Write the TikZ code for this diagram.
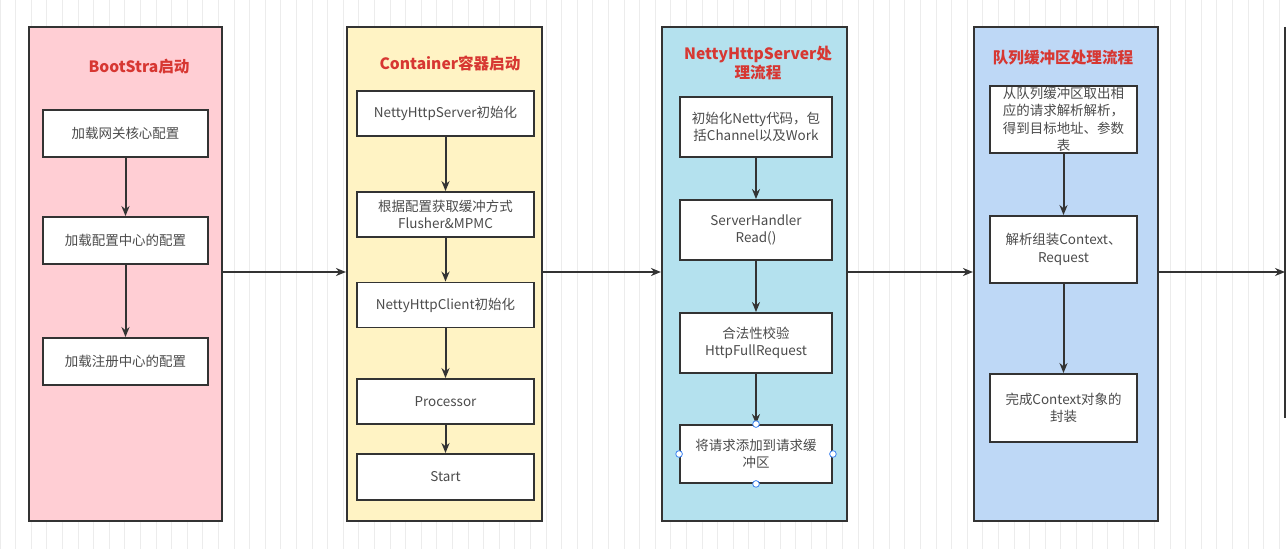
\documentclass[tikz,border=0pt]{standalone}
\usepackage{fontspec}
\setmainfont{Noto Sans CJK SC}
\usetikzlibrary{arrows.meta}

\definecolor{pinkbg}{RGB}{255,206,212}
\definecolor{yellowbg}{RGB}{255,243,196}
\definecolor{cyanbg}{RGB}{180,225,238}
\definecolor{bluebg}{RGB}{190,216,246}
\definecolor{titlered}{RGB}{215,55,50}
\definecolor{boxtext}{RGB}{75,75,75}
\definecolor{gridline}{RGB}{236,236,236}
\definecolor{handle}{RGB}{60,130,240}

\tikzset{
  stage/.style={draw=black!80,line width=1.6pt,minimum height=494*0.75pt},
  title/.style={text=titlered,font=\bfseries\fontsize{11.7}{14}\selectfont,align=center},
  stepbox/.style={draw=black!80,fill=white,line width=1.4pt,text=boxtext,
    font=\fontsize{10.1}{13}\selectfont,align=center},
  flow/.style={draw=black!80,line width=1.5pt,-{Stealth[length=7.5pt,width=6pt]}},
  grip/.style={circle,draw=handle,fill=white,line width=0.6pt,inner sep=0pt,minimum size=5pt}
}

\begin{document}
\begin{tikzpicture}[x=0.75pt,y=-0.75pt]

  \useasboundingbox (0,0) rectangle (1288,549);
  \fill[white] (0,0) rectangle (1288,549);
  \draw[gridline,line width=0.5pt] (0,0) grid[step=15.6] (1288,549);

  % stages
  \node[stage,fill=pinkbg,minimum width=193*0.75pt] (s1) at (125.5,274) {};
  \node[stage,fill=yellowbg,minimum width=195*0.75pt] (s2) at (444.5,274) {};
  \node[stage,fill=cyanbg,minimum width=185*0.75pt] (s3) at (754.5,274) {};
  \node[stage,fill=bluebg,minimum width=184*0.75pt] (s4) at (1066,274) {};
  \draw[black!80,line width=1.6pt] (1285,27) coordinate (s5top) -- (1285,418) coordinate (s5);

  \node[title] at (139,67) {BootStra启动};
  \node[title] at (450,63) {Container容器启动};
  \node[title] at (758,63) {NettyHttpServer处\\理流程};
  \node[title] at (1063,58) {队列缓冲区处理流程};

  % BootStrap
  \node[stepbox,minimum width=165*0.75pt,minimum height=47*0.75pt] (a1) at (125.5,133.5) {加载网关核心配置};
  \node[stepbox,minimum width=165*0.75pt,minimum height=47*0.75pt] (a2) at (125.5,240.5) {加载配置中心的配置};
  \node[stepbox,minimum width=165*0.75pt,minimum height=47*0.75pt] (a3) at (125.5,361.5) {加载注册中心的配置};

  % Container
  \node[stepbox,minimum width=177*0.75pt,minimum height=45*0.75pt] (b1) at (445.5,113.5) {NettyHttpServer初始化};
  \node[stepbox,minimum width=177*0.75pt,minimum height=45*0.75pt] (b2) at (445.5,214.5) {根据配置获取缓冲方式\\Flusher\&MPMC};
  \node[stepbox,minimum width=177*0.75pt,minimum height=45*0.75pt] (b3) at (445.5,305) {NettyHttpClient初始化};
  \node[stepbox,minimum width=177*0.75pt,minimum height=45*0.75pt] (b4) at (445.5,401.5) {Processor};
  \node[stepbox,minimum width=177*0.75pt,minimum height=46*0.75pt] (b5) at (445.5,477) {Start};

  % NettyHttpServer
  \node[stepbox,minimum width=152*0.75pt,minimum height=60*0.75pt] (c1) at (756,127) {初始化Netty代码，包\\括Channel以及Work};
  \node[stepbox,minimum width=152*0.75pt,minimum height=60*0.75pt] (c2) at (756,230) {ServerHandler\\Read()};
  \node[stepbox,minimum width=152*0.75pt,minimum height=60*0.75pt] (c3) at (756,343) {合法性校验\\HttpFullRequest};
  \node[stepbox,minimum width=152*0.75pt,minimum height=58*0.75pt] (c4) at (756,454) {将请求添加到请求缓\\冲区};

  % queue buffer
  \node[stepbox,minimum width=147*0.75pt,minimum height=67*0.75pt,inner sep=1pt] (d1) at (1063.5,119.5) {从队列缓冲区取出相\\应的请求解析解析，\\得到目标地址、参数\\表};
  \node[stepbox,minimum width=147*0.75pt,minimum height=67*0.75pt] (d2) at (1063.5,249.5) {解析组装Context、\\Request};
  \node[stepbox,minimum width=147*0.75pt,minimum height=68*0.75pt] (d3) at (1063.5,408) {完成Context对象的\\封装};

  \draw[flow] (a1) -- (a2);
  \draw[flow] (a2) -- (a3);
  \draw[flow] (b1) -- (b2);
  \draw[flow] (b2) -- (b3);
  \draw[flow] (b3) -- (b4);
  \draw[flow] (b4) -- (b5);
  \draw[flow] (c1) -- (c2);
  \draw[flow] (c2) -- (c3);
  \draw[flow] (c3) -- (c4);
  \draw[flow] (d1) -- (d2);
  \draw[flow] (d2) -- (d3);

  \draw[flow] (s1.east |- 0,272) -- (s2.west |- 0,272);
  \draw[flow] (s2.east |- 0,272) -- (s3.west |- 0,272);
  \draw[flow] (s3.east |- 0,272) -- (s4.west |- 0,272);
  \draw[flow] (s4.east |- 0,272) -- (s5 |- 0,272);

  % selection handles
  \node[grip] at (c4.north) {};
  \node[grip] at (c4.south) {};
  \node[grip] at (c4.west) {};
  \node[grip] at (c4.east) {};

\end{tikzpicture}
\end{document}
